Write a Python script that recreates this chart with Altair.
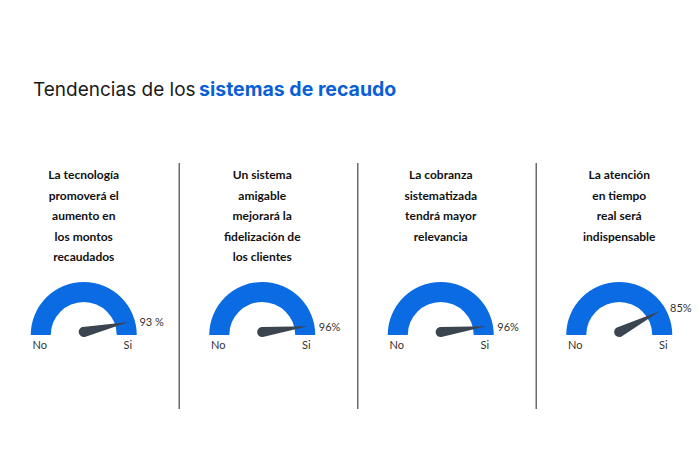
import math

import pandas as pd
import altair as alt

# survey statements, one per gauge (as printed, line by line)
ids = ["q1", "q2", "q3", "q4"]
questions = [
    ["La tecnología", "promoverá el", "aumento en", "los montos", "recaudados"],
    ["Un sistema", "amigable", "mejorará la", "fidelización de", "los clientes"],
    ["La cobranza", "sistematizada", "tendrá mayor", "relevancia"],
    ["La atención", "en tiempo", "real será", "indispensable"],
]
values = [93, 96, 96, 85]
pct_labels = ["93 %", "96%", "96%", "85%"]
end_labels = ["No", "Si"]
gauge_range = [0, 100]

title_plain = "Tendencias de los"
title_bold = "sistemas de recaudo"

BLUE = "#0b6be3"
TITLE_BLUE = "#0a5fd6"
NEEDLE_COLOR = "#3b4550"
TEXT_GRAY = "#333333"

# needle pointing left, pivot at origin with a rounded back end
NEEDLE = "M 0 -0.11 L -1 0 L 0 0.11 A 0.11 0.11 0 0 0 0 -0.11 Z"

df = pd.DataFrame({
    "id": ids,
    "value": values,
    "pct": pct_labels,
    "lo": gauge_range[0],
    "hi": gauge_range[1],
})

# one row per printed line
line_rows = []
for qid, lines in zip(ids, questions):
    for i, line in enumerate(lines):
        line_rows.append({"id": qid, "line": line, "pos": i})
lines_df = pd.DataFrame(line_rows)

x_scale = alt.Scale(type="band", domain=ids, range=[-13.5, 700.5], paddingInner=0, paddingOuter=0)
theta_scale = alt.Scale(domain=gauge_range, range=[1.5 * math.pi, 2.5 * math.pi])
angle_scale = alt.Scale(domain=gauge_range, range=[0, 180])
x_enc = alt.X("id:N", scale=x_scale, axis=None)

GY = 327  # gauge centre line

base = alt.Chart(df)

gauge = base.mark_arc(radius=53, radius2=33, color=BLUE).encode(
    x=x_enc,
    y=alt.value(GY),
    theta=alt.Theta("lo:Q", scale=theta_scale, stack=False),
    theta2="hi:Q",
)

needle = base.mark_point(
    shape=NEEDLE, filled=True, size=8464, color=NEEDLE_COLOR, opacity=1, strokeWidth=0
).encode(
    x=x_enc,
    y=alt.value(GY - 3),
    angle=alt.Angle("value:Q", scale=angle_scale),
)

pct = base.mark_text(
    radius=57, align="left", baseline="middle", font="Lato", fontSize=11, color=TEXT_GRAY
).encode(
    x=x_enc,
    y=alt.value(GY),
    theta=alt.Theta("value:Q", scale=theta_scale),
    text="pct:N",
)

label_no = base.mark_text(
    dx=-44, baseline="middle", font="Lato", fontSize=11, color=TEXT_GRAY
).encode(x=x_enc, y=alt.value(GY + 11), text=alt.value(end_labels[0]))

label_si = base.mark_text(
    dx=44, baseline="middle", font="Lato", fontSize=11, color=TEXT_GRAY
).encode(x=x_enc, y=alt.value(GY + 11), text=alt.value(end_labels[1]))

questions_text = alt.Chart(lines_df).mark_text(
    font="Lato", fontWeight="bold", fontSize=12,
    baseline="middle", align="center", color="#111111"
).encode(
    x=x_enc,
    y=alt.Y("pos:Q", scale=alt.Scale(domain=[0, 4], range=[167, 249]), axis=None),
    text="line:N",
)

dividers = base.transform_filter(alt.datum.id != ids[0]).mark_rule(
    color="#6b6b6b", strokeWidth=1.5
).encode(
    x=alt.X("id:N", scale=x_scale, axis=None, bandPosition=0.035),
    y=alt.value(155),
    y2=alt.value(401),
)

head_plain = alt.Chart(pd.DataFrame({"t": [title_plain]})).mark_text(
    align="left", baseline="alphabetic", font="Inter", fontSize=19, color="#1a1a1a"
).encode(x=alt.value(25), y=alt.value(88), text="t:N")

head_bold = alt.Chart(pd.DataFrame({"t": [title_bold]})).mark_text(
    align="left", baseline="alphabetic", font="Inter", fontSize=19.5, fontWeight="bold",
    color=TITLE_BLUE
).encode(x=alt.value(191), y=alt.value(88), text="t:N")

chart = alt.layer(
    dividers, questions_text, gauge, needle, pct, label_no, label_si, head_plain, head_bold
).properties(
    width=684,
    height=455,
    padding=0,
    autosize=alt.AutoSizeParams(type="none"),
).configure_view(strokeWidth=0)

chart.save("out.html", embed_options={"renderer": "svg", "actions": False})
